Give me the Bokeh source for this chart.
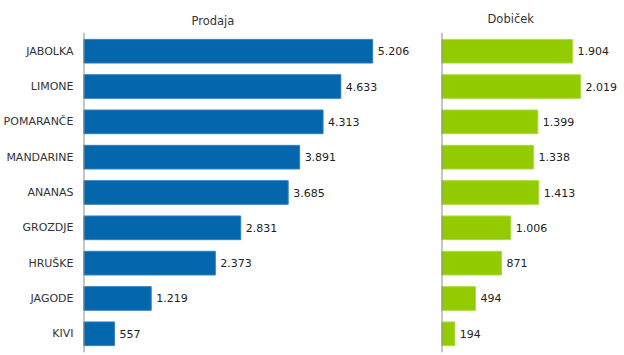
from bokeh.plotting import figure
from bokeh.models import Range1d, FixedTicker, Span, Title, ColumnDataSource
from bokeh.layouts import row
from bokeh.embed import file_html
from bokeh.resources import INLINE
from bokeh.core.properties import value

categories = ["JABOLKA", "LIMONE", "POMARANČE", "MANDARINE", "ANANAS",
              "GROZDJE", "HRUŠKE", "JAGODE", "KIVI"]
prodaja = [5206, 4633, 4313, 3891, 3685, 2831, 2373, 1219, 557]
dobicek = [1904, 2019, 1399, 1338, 1413, 1006, 871, 494, 194]

FONT = "DejaVu Sans"


def fmt(v):
    return "{:,}".format(v).replace(",", ".")


pos = list(range(len(categories)))
BAR_H = 0.67


def make(width, values, x_end, color, edge, title, title_offset, title_standoff,
         min_left, with_labels):
    src = ColumnDataSource(dict(y=pos, v=values, lab=[fmt(v) for v in values]))
    p = figure(width=width, height=354, output_backend="svg", toolbar_location=None,
               x_range=Range1d(0, x_end), y_range=Range1d(8.53, -0.53),
               min_border_left=min_left, min_border_right=0,
               min_border_top=32, min_border_bottom=2)
    p.outline_line_color = None
    p.grid.visible = False
    p.xaxis.visible = False
    p.background_fill_color = "white"
    p.border_fill_color = "white"
    p.hbar(y="y", right="v", left=0, height=BAR_H, source=src,
           fill_color=color, line_color=edge, line_width=1)
    p.text(x="v", y="y", text="lab", source=src, x_offset=5,
           text_baseline="middle", text_align="left",
           text_font=value(FONT), text_font_size="11px", text_color="#222222")
    if with_labels:
        ax = p.yaxis[0]
        ax.ticker = FixedTicker(ticks=pos)
        ax.major_label_overrides = {i: c for i, c in zip(pos, categories)}
        ax.major_tick_in = 0
        ax.major_tick_out = 0
        ax.minor_tick_in = 0
        ax.minor_tick_out = 0
        ax.axis_line_color = None
        ax.major_label_standoff = 10
        ax.major_label_text_font = FONT
        ax.major_label_text_font_size = "11px"
        ax.major_label_text_color = "#333333"
    else:
        p.yaxis.visible = False
    p.add_layout(Span(location=0, dimension="height", line_color="#8c8c8c", line_width=2))
    p.title = Title(text=title, align="left", offset=title_offset,
                    standoff=title_standoff,
                    text_font=FONT, text_font_size="11.5px",
                    text_font_style="normal", text_color="#333333")
    return p


p1 = make(430, prodaja, 348 / (290 / 5206), "#0466ac", "#2f80c0",
          "Prodaja", 108, 10, 82, True)
p2 = make(194, dobicek, 183 / (139 / 2019), "#92cc00", "#aedb3f",
          "Dobiček", 46, 14, 11, False)

layout = row(p1, p2)
open("out.html", "w").write(file_html(layout, INLINE))
